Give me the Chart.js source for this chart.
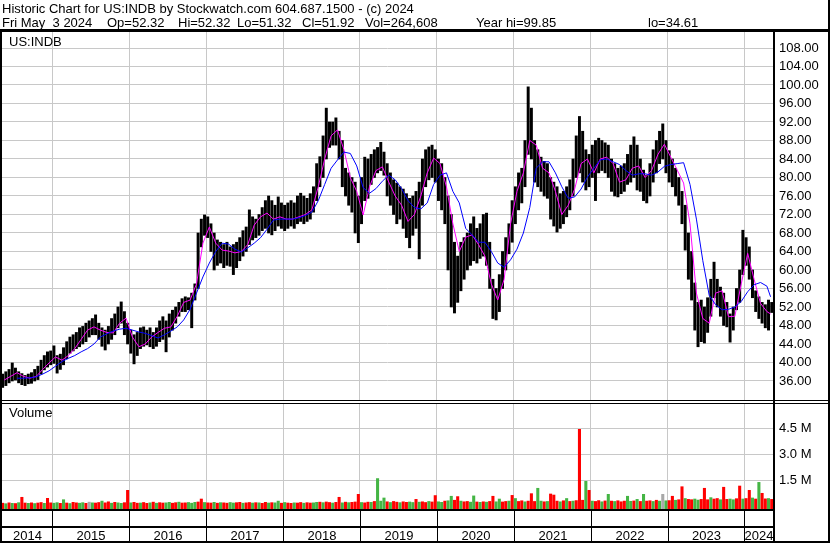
<!DOCTYPE html>
<html><head><meta charset="utf-8">
<script src="https://cdn.jsdelivr.net/npm/chart.js@4.4.1/dist/chart.umd.min.js"></script>
<style>html,body{margin:0;padding:0;background:#fff;overflow:hidden}canvas{display:block}</style>
</head><body>
<canvas id="c" width="830" height="543"></canvas>
<script>
const title = "Historic Chart for US:INDB by Stockwatch.com 604.687.1500 - (c) 2024";
const quoteFields = ["Fri May  3 2024", "Op=52.32", "Hi=52.32", "Lo=51.32", "Cl=51.92", "Vol=264,608", "Year hi=99.85", "lo=34.61"];
const symbol = "US:INDB";
const years = ["2014","2015","2016","2017","2018","2019","2020","2021","2022","2023","2024"];
const priceTicks = [36,40,44,48,52,56,60,64,68,72,76,80,84,88,92,96,100,104,108];
const volumeTicks = [1500000,3000000,4500000];
const volumeTickLabels = ["1.5 M","3.0 M","4.5 M"];

// half-month periods, first = May 2014 (1st half), last = May 2024 (1st half)
const highs = [
37.5,38.0,38.5,39.9,38.8,38.0,37.6,37.2,37.5,37.8,
38.5,39.2,40.5,41.5,42.3,42.5,43.6,41.5,41.8,43.2,
44.5,45.5,46.0,46.5,47.5,47.8,48.5,49.0,49.5,50.3,
48.5,47.5,47.0,47.8,49.5,50.5,52.0,53.1,51.0,48.5,
47.0,46.0,46.5,47.5,47.7,47.0,47.5,46.5,47.5,49.0,
49.9,49.0,50.5,51.3,52.0,53.0,53.8,54.2,54.0,55.0,
57.0,68.0,71.0,71.9,71.5,70.0,68.0,66.5,66.0,65.5,
66.0,65.0,65.5,66.0,67.0,68.5,69.3,73.0,71.5,71.0,
72.0,73.5,75.0,76.0,75.0,74.0,75.8,74.5,74.0,74.5,
75.0,74.5,76.0,76.6,76.0,75.5,76.5,78.0,83.0,84.5,
89.0,95.0,92.0,92.0,92.9,90.0,88.0,82.0,81.0,80.0,
79.0,76.0,80.0,84.4,84.0,85.0,86.0,86.5,87.6,85.5,
83.0,81.0,79.5,78.8,78.0,77.5,76.5,75.5,76.0,77.0,
79.0,84.0,86.0,86.6,87.0,86.0,84.0,83.0,80.0,76.0,
72.0,66.0,63.0,66.0,67.0,68.0,70.0,71.5,69.0,70.0,
72.0,72.3,66.0,58.0,56.0,59.0,64.0,67.0,70.0,75.0,
78.0,81.0,82.0,88.0,99.6,95.0,88.0,86.0,84.4,83.5,
83.0,80.0,79.0,78.0,76.5,77.0,78.0,79.5,84.0,89.0,
93.2,90.0,86.0,85.0,87.0,88.0,88.5,88.0,87.5,87.0,
84.0,83.0,82.0,82.5,83.0,85.0,87.0,88.8,87.0,84.0,
81.6,80.5,83.0,86.0,88.0,90.0,91.6,88.0,85.8,84.0,
82.0,80.0,77.0,74.0,68.0,64.0,57.2,53.0,53.5,52.0,
54.0,58.0,61.7,58.0,56.3,55.0,53.0,50.5,52.0,56.0,
60.0,68.6,67.0,65.0,60.0,55.5,54.2,53.0,52.5,53.5,53.0];
const lows = [
34.6,35.0,35.6,36.0,36.2,35.6,35.2,35.0,35.4,35.5,
36.0,36.3,37.5,38.4,39.0,39.5,39.8,37.7,38.5,39.5,
40.8,42.0,42.5,43.0,43.4,44.0,44.5,45.5,46.0,46.0,
45.0,43.5,42.7,44.0,45.0,46.0,47.5,48.5,46.0,44.0,
42.0,39.7,41.5,43.0,43.5,43.8,43.4,43.0,43.5,44.5,
45.0,42.3,45.5,47.0,48.5,50.0,51.0,51.0,51.4,47.5,
53.5,56.0,65.0,67.5,67.0,64.0,60.0,61.0,61.5,60.5,
61.0,60.8,59.0,60.5,62.0,63.0,64.0,65.5,66.5,67.0,
67.5,68.5,69.0,68.0,67.6,68.5,69.5,69.0,68.5,69.0,
69.5,69.0,70.0,70.5,70.0,70.5,71.0,72.5,75.0,78.0,
80.0,84.0,86.5,87.0,87.0,84.0,78.0,76.0,74.0,72.5,
68.0,65.9,70.0,75.0,75.5,78.5,80.0,81.0,81.5,80.5,
76.0,74.0,72.0,70.0,71.0,69.0,67.0,64.8,67.5,69.0,
62.4,74.0,78.0,79.5,80.0,79.0,75.0,73.0,70.0,60.0,
52.0,50.7,53.0,55.5,58.0,60.0,61.0,62.0,61.5,62.5,
63.0,61.0,56.0,49.5,49.2,51.0,56.0,60.0,63.5,66.0,
70.0,73.0,74.5,78.0,85.0,84.0,79.0,78.0,77.0,76.0,
75.5,71.0,69.5,68.2,69.0,70.0,71.5,73.0,76.0,80.0,
81.0,79.0,77.3,78.0,80.0,75.0,81.0,81.5,81.0,80.0,
77.0,76.0,75.8,76.5,77.0,78.5,79.0,80.0,77.3,77.0,
75.0,74.5,76.0,79.0,81.0,83.0,84.0,81.0,79.0,78.0,
76.0,74.0,70.0,64.3,58.0,53.5,47.0,43.4,44.5,44.2,
46.5,50.0,54.0,52.0,50.0,48.0,47.7,44.4,47.0,51.4,
53.0,59.0,61.0,58.0,54.0,51.0,49.5,48.5,47.5,47.0,50.8];
// volume, thousands of shares (largest day in each half-month)
const volumes = [
180,150,200,170,160,210,520,190,170,200,
160,190,220,170,460,200,180,210,170,380,
190,160,230,200,180,210,170,240,200,190,
220,300,200,260,180,230,200,170,210,920,
200,230,180,190,220,170,200,240,180,210,
190,200,230,180,210,240,190,200,220,180,
230,250,420,220,200,190,230,180,210,200,
180,220,190,210,230,180,200,220,190,210,
200,170,230,190,210,200,300,180,220,190,
170,200,190,220,180,210,190,200,230,240,
210,250,220,190,230,520,200,240,210,230,
250,690,220,200,240,230,280,1600,300,480,
260,220,280,240,210,260,230,250,220,400,
240,260,220,280,250,620,260,230,300,320,
580,350,560,300,260,280,240,600,250,230,
260,240,280,580,260,420,250,280,300,630,
450,280,320,260,300,730,280,1040,300,260,
280,710,650,300,260,320,450,280,300,330,
4440,350,1440,920,300,280,330,260,310,690,
300,280,320,260,300,580,290,310,400,280,
690,300,320,280,350,300,690,320,330,580,
350,380,1130,450,400,380,420,360,400,1040,
380,500,420,450,380,1100,400,420,380,440,
1170,420,450,920,480,420,1380,750,430,450,400];
// u = up day, d = down day, g = unchanged
const volumeDir =
"dudududdud"+"uddudduudu"+"dudduudgud"+"dudduduudd"+"udduddudud"+
"duuddudduu"+"udduddudud"+"duudduddud"+"udduduudud"+"duddudduud"+
"udduddudud"+"ddudduduuu"+"duddudduud"+"uddudduudu"+"uddudduudu"+
"dudduuddud"+"udduddduud"+"udddududud"+"ddududdudu"+"duddduudud"+
"uddudugudd"+"uddudduudd"+"duddudduud"+"duddududdu"+"d";

// moving averages, one value per month (May 2014 .. May 2024)
const maShort = [
36.2,37.0,37.8,37.0,36.6,37.0,38.5,39.9,41.2,40.5,
41.5,43.0,45.0,47.0,47.7,47.0,46.5,46.4,48.5,49.6,
45.5,43.4,44.0,45.5,46.5,47.4,47.7,50.0,53.0,53.5,
57.0,65.8,69.3,65.8,64.3,64.1,63.7,64.0,65.5,69.7,
71.5,72.3,71.0,71.5,71.0,71.0,71.5,72.0,73.0,78.0,
84.0,89.0,90.3,86.0,80.0,77.0,71.9,78.0,81.5,82.3,
79.0,76.0,74.0,70.5,72.0,76.0,81.0,84.2,83.0,78.0,
70.0,64.0,67.1,67.6,65.5,63.0,57.0,53.5,58.0,70.0,
77.0,81.0,88.0,87.0,82.0,81.0,77.0,72.0,74.0,77.5,
83.0,84.0,81.0,84.0,84.4,83.0,79.0,79.5,82.0,82.5,
80.0,81.5,85.0,87.2,84.4,81.6,78.8,70.0,55.0,49.5,
48.5,55.0,55.5,49.9,50.0,57.0,63.6,58.0,52.8,51.0,
50.5];
const maLong = [
null,null,36.6,36.6,36.7,36.9,37.5,38.2,39.2,40.2,
40.9,41.5,42.3,43.0,44.0,45.5,46.2,46.8,47.2,47.4,
47.0,46.6,46.3,45.8,45.3,46.0,46.8,47.7,49.2,51.5,
55.0,58.5,61.5,64.0,65.8,65.6,64.5,63.9,64.8,65.8,
67.0,68.8,70.8,71.0,71.0,71.0,71.3,71.8,72.5,75.0,
78.5,82.0,83.8,85.5,85.2,82.5,77.8,76.6,77.6,79.2,
80.5,79.5,77.6,75.0,73.5,73.2,74.5,78.5,80.5,81.0,
77.0,74.5,69.0,67.6,66.0,66.0,64.0,61.5,60.6,62.2,
64.5,68.0,73.5,82.0,83.4,83.4,81.0,78.0,75.5,75.8,
77.5,80.1,82.0,83.8,84.0,83.4,82.8,81.5,80.5,80.8,
80.8,80.5,81.2,82.4,82.8,83.0,83.2,78.5,71.0,62.0,
54.5,52.5,51.4,51.5,52.0,53.2,55.3,56.8,57.3,56.5,
54.2];

// layout (pixels) for the header fields
const quoteX = [2, 107, 178, 237, 302, 365, 476, 648];

// x values are months since Jan 2014
const FIRST_MONTH = 4;          // May 2014
const LAST_DATE = 124.07;       // May 3 2024
const X_MIN = 4.15, X_MAX = 124.45;
const P_MIN = 8.32, P_MAX = 111.46;
const V_MIN = -155770, V_MAX = 27360000;

const periodX = highs.map((_, i) => FIRST_MONTH + 0.25 + 0.5 * i);
const monthX = maShort.map((_, m) => Math.min(FIRST_MONTH + 0.5 + m, LAST_DATE));
const dirColor = {u: '#44b544', d: '#ff0000', g: '#a8a8a8'};

const FONT = '"Liberation Sans", Arial, sans-serif';

const frame = {
  id: 'frame',
  beforeDatasetsDraw(chart) {
    const ctx = chart.ctx, ca = chart.chartArea, vs = chart.scales.v;
    ctx.save();
    ctx.fillStyle = '#c8c8c8';
    volumeTicks.forEach(t => {
      const y = Math.round(vs.getPixelForValue(t));
      ctx.fillRect(ca.left, y, ca.right - ca.left, 1);
    });
    ctx.restore();
  },
  afterDraw(chart) {
    const ctx = chart.ctx, ca = chart.chartArea, xs = chart.scales.x, vs = chart.scales.v;
    const W = chart.width, H = chart.height;
    ctx.save();
    ctx.fillStyle = '#000';
    ctx.font = '13px ' + FONT;
    ctx.textAlign = 'left';
    ctx.textBaseline = 'alphabetic';
    ctx.fillText(title, 2, 12.5);
    quoteFields.forEach((f, k) => ctx.fillText(f, quoteX[k], 26.5));
    ctx.fillText(symbol, 9, 46);
    // separator between price and volume panels
    ctx.fillStyle = '#fff';
    ctx.fillRect(0, 400, W, 4);
    ctx.fillStyle = '#000';
    ctx.fillRect(0, 400, W, 1);
    ctx.fillRect(0, 403, W, 1);
    ctx.fillText('Volume', 9, 416.5);
    // volume axis labels
    ctx.textBaseline = 'middle';
    volumeTicks.forEach((t, k) => ctx.fillText(volumeTickLabels[k], ca.right + 6, Math.round(vs.getPixelForValue(t)) + 0.5));
    ctx.textBaseline = 'alphabetic';
    // bottom date rows
    ctx.fillStyle = '#fff';
    ctx.fillRect(ca.left, ca.bottom, ca.right - ca.left, H - ca.bottom);
    ctx.fillStyle = '#000';
    ctx.fillRect(0, ca.bottom, ca.right, 2);
    ctx.fillRect(0, 526, ca.right, 2);
    const bounds = [ca.left];
    for (let k = 1; k < years.length; k++) bounds.push(Math.round(xs.getPixelForValue(12 * k)));
    bounds.push(ca.right);
    for (let k = 1; k < bounds.length - 1; k++) ctx.fillRect(bounds[k], ca.bottom, 1, H - ca.bottom);
    ctx.textAlign = 'center';
    for (let k = 0; k < years.length; k++) {
      ctx.fillText(years[k], (bounds[k] + bounds[k + 1]) / 2 + 0.5, 539.5);
    }
    // frame lines
    ctx.fillRect(0, 29, W, 3);
    ctx.fillRect(0, 29, 2, H - 29);
    ctx.fillRect(W - 2, 0, 2, H);
    ctx.fillRect(0, H - 2, W, 2);
    ctx.fillRect(ca.right, 29, 2, H - 29);
    ctx.restore();
  }
};

new Chart(document.getElementById('c'), {
  type: 'bar',
  data: {
    datasets: [
      {
        type: 'line', label: 'MA long', yAxisID: 'y', xAxisID: 'x', order: 1,
        data: maLong.map((v, m) => ({x: monthX[m], y: v})),
        borderColor: '#0000ff', borderWidth: 1, pointRadius: 0, tension: 0, spanGaps: false
      },
      {
        type: 'line', label: 'MA short', yAxisID: 'y', xAxisID: 'x', order: 2,
        data: maShort.map((v, m) => ({x: monthX[m], y: v})),
        borderColor: '#ff00ff', borderWidth: 1, pointRadius: 0, tension: 0
      },
      {
        type: 'bar', label: 'Price', yAxisID: 'y', xAxisID: 'x', order: 3, grouped: false,
        data: highs.map((h, i) => ({x: periodX[i], y: [lows[i], h]})),
        backgroundColor: '#000', borderWidth: 0, barThickness: 2.3
      },
      {
        type: 'bar', label: 'Volume', yAxisID: 'v', xAxisID: 'x', order: 4, grouped: false,
        data: volumes.map((v, i) => ({x: periodX[i], y: [V_MIN, v * 1000]})),
        backgroundColor: volumes.map((_, i) => dirColor[volumeDir[i]]),
        borderWidth: 0, barThickness: 2.4
      }
    ]
  },
  options: {
    responsive: false, animation: false, devicePixelRatio: 1, events: [],
    layout: {padding: {left: 2, right: 2, top: 32, bottom: 34}},
    plugins: {legend: {display: false}, tooltip: {enabled: false}, title: {display: false}},
    scales: {
      x: {
        type: 'linear', min: X_MIN, max: X_MAX, offset: false, position: 'bottom',
        afterBuildTicks: s => { s.ticks = years.slice(1).map((_, k) => ({value: 12 * (k + 1)})); },
        afterFit: s => { s.height = 0; },
        ticks: {display: false},
        grid: {color: '#c8c8c8', lineWidth: 1, drawTicks: false, offset: false},
        border: {display: false}
      },
      v: {
        type: 'linear', position: 'right', min: V_MIN, max: V_MAX, display: false
      },
      y: {
        type: 'linear', position: 'right', min: P_MIN, max: P_MAX,
        afterBuildTicks: s => { s.ticks = priceTicks.map(v => ({value: v})); },
        afterFit: s => { s.width = 55; },
        ticks: {
          autoSkip: false, padding: 6, color: '#000', font: {family: FONT, size: 13},
          callback: (v) => Number(v).toFixed(2)
        },
        grid: {color: '#c8c8c8', lineWidth: 1, drawTicks: false},
        border: {display: false}
      }
    }
  },
  plugins: [frame]
});
</script>
</body></html>
